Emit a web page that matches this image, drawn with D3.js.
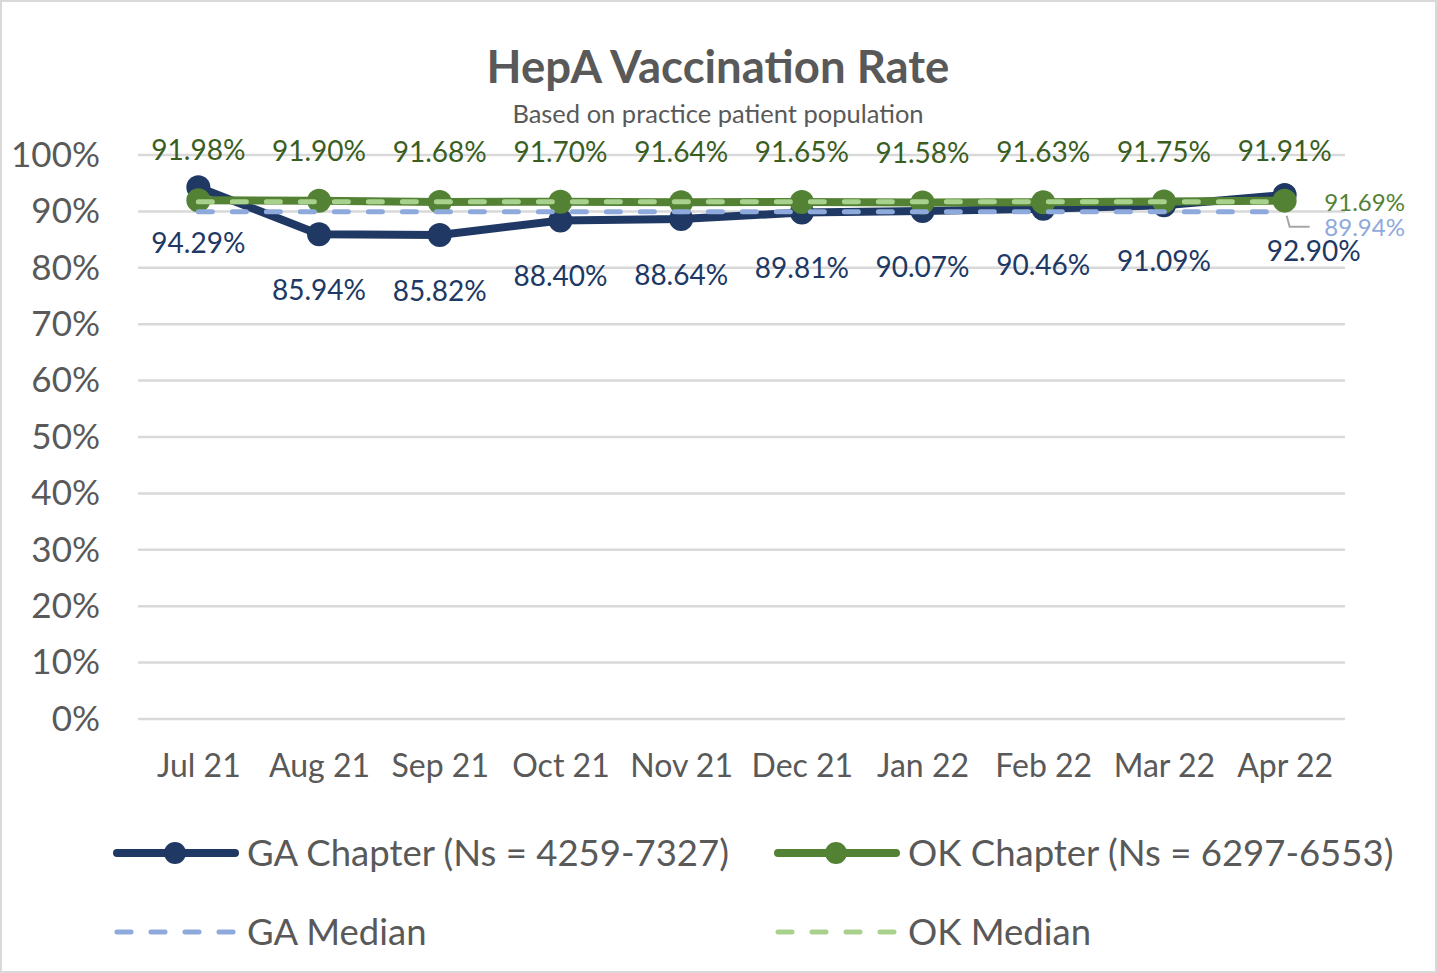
<!DOCTYPE html>
<html>
<head>
<meta charset="utf-8">
<script src="https://cdn.jsdelivr.net/npm/d3@7"></script>
<style>
  body { margin: 0; background: #fff; }
  text { font-family: Lato, "Noto Sans", sans-serif; }
</style>
</head>
<body>
<div id="chart"></div>
<script>
// chart data
const months = ["Jul 21", "Aug 21", "Sep 21", "Oct 21", "Nov 21", "Dec 21", "Jan 22", "Feb 22", "Mar 22", "Apr 22"];
const gaChapter = [94.29, 85.94, 85.82, 88.40, 88.64, 89.81, 90.07, 90.46, 91.09, 92.90];
const okChapter = [91.98, 91.90, 91.68, 91.70, 91.64, 91.65, 91.58, 91.63, 91.75, 91.91];
const gaMedian = [89.94, 89.94, 89.94, 89.94, 89.94, 89.94, 89.94, 89.94, 89.94, 89.94];
const okMedian = [91.69, 91.69, 91.69, 91.69, 91.69, 91.69, 91.69, 91.69, 91.69, 91.69];
const yTicks = [0, 10, 20, 30, 40, 50, 60, 70, 80, 90, 100];

const colors = {
    ga: "#203864",
    ok: "#548235",
    okLabel: "#3A5E1F",
    gaMed: "#8EA9DB",
    okMed: "#A9D18E",
    text: "#595959",
    grid: "#D9D9D9"
};

const W = 1437, H = 973;
const margin = {top: 155, right: 92, bottom: 254, left: 138};
const width = W - margin.left - margin.right,
      height = H - margin.top - margin.bottom;

const svg = d3.select("#chart")
    .append("svg")
    .attr("width", W)
    .attr("height", H);

// outer border
svg.append("rect")
    .attr("x", 1).attr("y", 1)
    .attr("width", W - 2).attr("height", H - 2)
    .attr("fill", "#fff")
    .attr("stroke", colors.grid)
    .attr("stroke-width", 2);

svg.append("text")
    .attr("x", 718).attr("y", 83)
    .attr("text-anchor", "middle")
    .style("font-size", "45.5px")
    .style("font-weight", "bold")
    .style("fill", colors.text)
    .text("HepA Vaccination Rate");

svg.append("text")
    .attr("x", 718).attr("y", 123)
    .attr("text-anchor", "middle")
    .style("font-size", "25.5px")
    .style("fill", colors.text)
    .text("Based on practice patient population");

const g = svg.append("g")
    .attr("transform", `translate(${margin.left}, ${margin.top})`);

const xScale = d3.scalePoint()
    .domain(months)
    .range([0, width])
    .padding(0.5);

const yScale = d3.scaleLinear()
    .domain([0, 100])
    .range([height, 0]);

// gridlines
g.append("g")
    .selectAll("line")
    .data(yTicks)
    .enter()
    .append("line")
    .attr("x1", 0).attr("x2", width)
    .attr("y1", d => yScale(d)).attr("y2", d => yScale(d))
    .attr("stroke", colors.grid)
    .attr("stroke-width", 2.5);

// y axis
const yAxis = g.append("g")
    .call(d3.axisLeft(yScale).tickValues(yTicks).tickFormat(d => d + "%").tickSize(0).tickPadding(38));
yAxis.select(".domain").remove();
yAxis.selectAll("text")
    .style("font-size", "35px")
    .style("fill", colors.text)
    .style("font-family", "Lato, 'Noto Sans', sans-serif");

// x axis
const xAxis = g.append("g")
    .attr("transform", `translate(0, ${height})`)
    .call(d3.axisBottom(xScale).tickSize(0).tickPadding(35));
xAxis.select(".domain").remove();
xAxis.selectAll("text")
    .style("font-size", "32px")
    .style("fill", colors.text)
    .style("font-family", "Lato, 'Noto Sans', sans-serif");

const line = d3.line()
    .x((d, i) => xScale(months[i]))
    .y(d => yScale(d));

function drawSeries(values, color, opts) {
    g.append("path")
        .datum(values)
        .attr("d", line)
        .attr("fill", "none")
        .attr("stroke", color)
        .attr("stroke-width", opts.width)
        .attr("stroke-linejoin", "round")
        .attr("stroke-linecap", "round")
        .attr("stroke-dasharray", opts.dash || null);
    if (opts.marker) {
        g.append("g")
            .selectAll("circle")
            .data(values)
            .enter()
            .append("circle")
            .attr("cx", (d, i) => xScale(months[i]))
            .attr("cy", d => yScale(d))
            .attr("r", opts.marker)
            .attr("fill", color);
    }
}

drawSeries(gaChapter, colors.ga, {width: 8, marker: 12});
drawSeries(okChapter, colors.ok, {width: 8, marker: 12});
drawSeries(gaMedian, colors.gaMed, {width: 5, dash: "14 20"});
drawSeries(okMedian, colors.okMed, {width: 5, dash: "14 20"});

// data labels
g.append("g")
    .selectAll("text")
    .data(okChapter)
    .enter()
    .append("text")
    .attr("x", (d, i) => xScale(months[i]))
    .attr("y", d => yScale(d) - 40)
    .attr("text-anchor", "middle")
    .style("font-size", "28px")
    .style("fill", colors.okLabel)
    .text(d => d.toFixed(2) + "%");

g.append("g")
    .selectAll("text")
    .data(gaChapter)
    .enter()
    .append("text")
    .attr("x", (d, i) => xScale(months[i]) + (i === months.length - 1 ? 29 : 0))
    .attr("y", d => yScale(d) + 66)
    .attr("text-anchor", "middle")
    .style("font-size", "28px")
    .style("fill", colors.ga)
    .text(d => d.toFixed(2) + "%");

// median labels at last point
const lastX = xScale(months[months.length - 1]);
g.append("path")
    .attr("d", `M${lastX + 2},${yScale(gaMedian[9]) + 4} L${lastX + 5},${yScale(gaMedian[9]) + 15} L${lastX + 25},${yScale(gaMedian[9]) + 15}`)
    .attr("fill", "none")
    .attr("stroke", "#A6A6A6")
    .attr("stroke-width", 2);

g.append("text")
    .attr("x", lastX + 80)
    .attr("y", yScale(okMedian[9]) + 9)
    .attr("text-anchor", "middle")
    .style("font-size", "24px")
    .style("fill", colors.ok)
    .text(okMedian[9].toFixed(2) + "%");

g.append("text")
    .attr("x", lastX + 80)
    .attr("y", yScale(gaMedian[9]) + 24)
    .attr("text-anchor", "middle")
    .style("font-size", "24px")
    .style("fill", colors.gaMed)
    .text(gaMedian[9].toFixed(2) + "%");

// legend
const legendItems = [
    {name: "GA Chapter (Ns = 4259-7327)", color: colors.ga, marker: true, x: 117, y: 853},
    {name: "OK Chapter (Ns = 6297-6553)", color: colors.ok, marker: true, x: 778, y: 853},
    {name: "GA Median", color: colors.gaMed, marker: false, x: 117, y: 932},
    {name: "OK Median", color: colors.okMed, marker: false, x: 778, y: 932}
];

const legend = svg.append("g");
legendItems.forEach(item => {
    const lg = legend.append("g").attr("transform", `translate(${item.x}, ${item.y})`);
    lg.append("line")
        .attr("x1", 0).attr("x2", 118)
        .attr("y1", 0).attr("y2", 0)
        .attr("stroke", item.color)
        .attr("stroke-width", item.marker ? 8 : 5)
        .attr("stroke-linecap", "round")
        .attr("stroke-dasharray", item.marker ? null : "14 20");
    if (item.marker) {
        lg.append("circle")
            .attr("cx", 58).attr("cy", 0)
            .attr("r", 11)
            .attr("fill", item.color);
    }
    lg.append("text")
        .attr("x", 130).attr("y", 13)
        .style("font-size", "36.5px")
        .style("fill", colors.text)
        .text(item.name);
});
</script>
</body>
</html>
